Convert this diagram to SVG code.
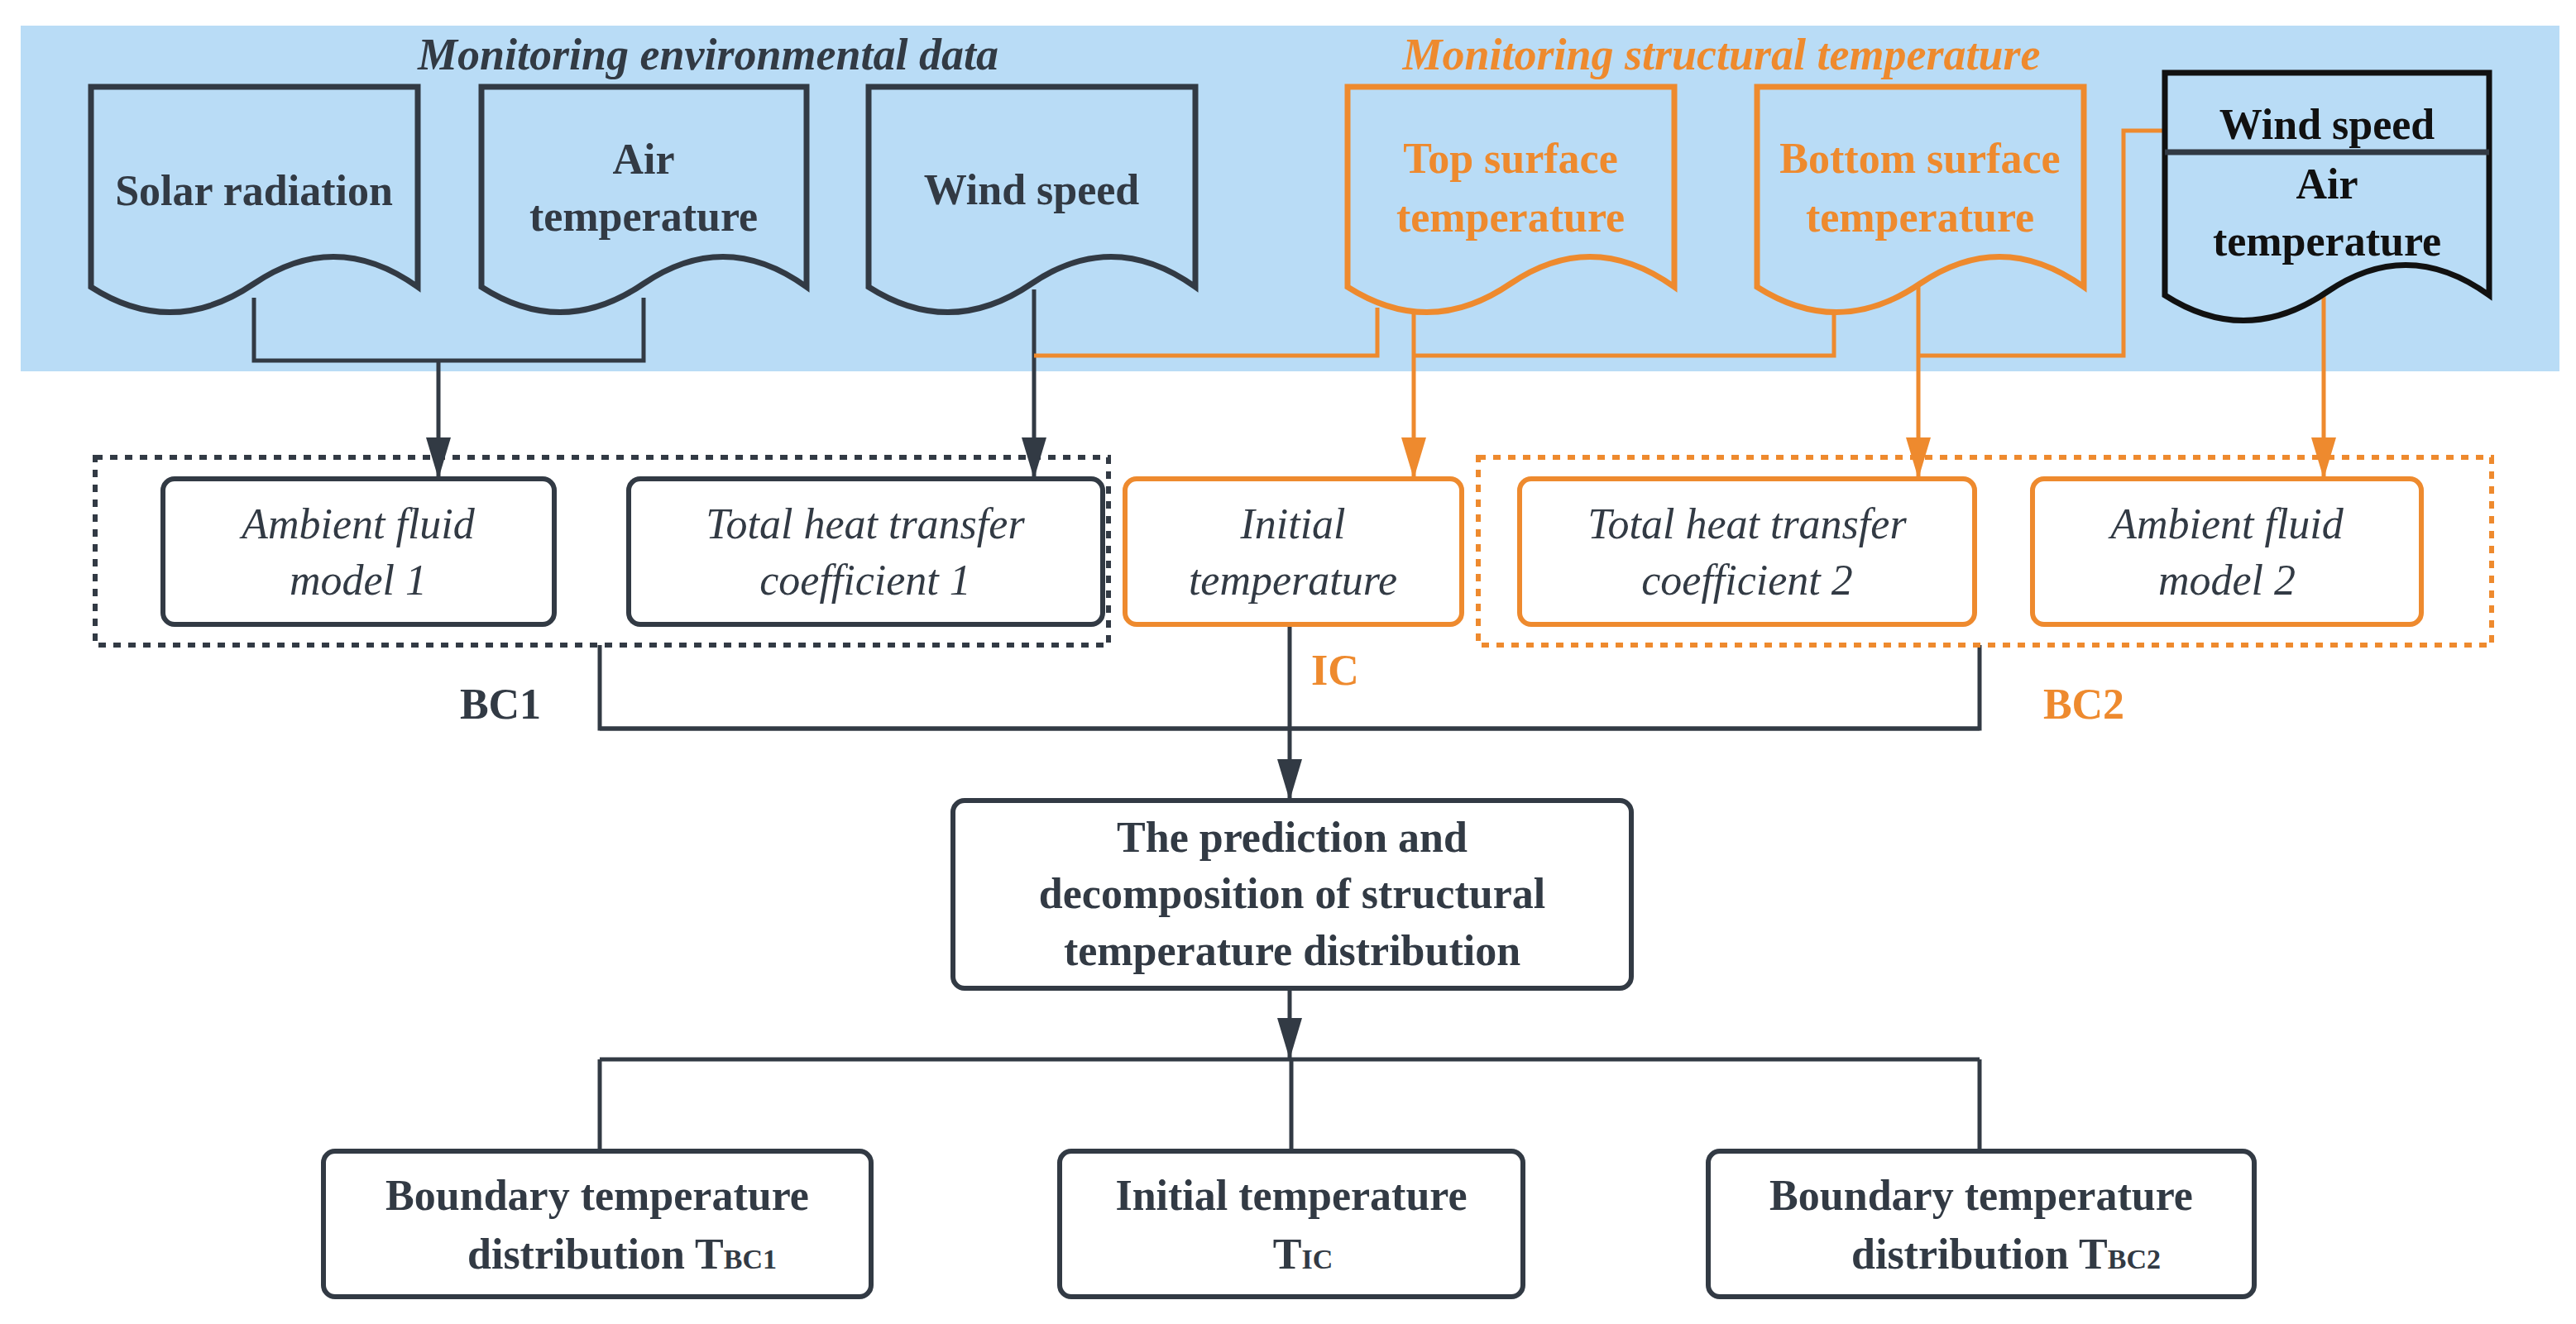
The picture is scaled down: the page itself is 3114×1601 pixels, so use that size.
<svg xmlns="http://www.w3.org/2000/svg" width="3114" height="1601" viewBox="0 0 3114 1601">
<style>
.doc{fill:#b9dcf6;stroke-width:7}
.dk{stroke:#323a44}
.or{stroke:#ee8a2e}
.bk{stroke:#111}
.box{fill:#fff;stroke-width:6}
.ln{fill:none;stroke-width:5}
.t{font-family:"Liberation Serif","Times New Roman","DejaVu Serif",serif;font-weight:bold;font-size:52px;text-anchor:middle}
.i{font-style:italic;font-weight:normal}
.h{font-weight:bold;font-size:54px}
.cd{fill:#323a44}
.co{fill:#ee8a2e}
.cb{fill:#111}
</style>
<defs>
<marker id="ad" viewBox="0 0 50 30" refX="50" refY="15" markerWidth="50" markerHeight="30" markerUnits="userSpaceOnUse" orient="auto"><path d="M0,0 L50,15 L0,30 z" fill="#323a44"/></marker>
<marker id="ao" viewBox="0 0 50 30" refX="50" refY="15" markerWidth="50" markerHeight="30" markerUnits="userSpaceOnUse" orient="auto"><path d="M0,0 L50,15 L0,30 z" fill="#ee8a2e"/></marker>
</defs>
<rect x="25" y="31" width="3069" height="418" fill="#b9dcf6"/>
<text class="t i h cd" x="856" y="84">Monitoring environmental data</text>
<text class="t i h co" x="2081" y="84">Monitoring structural temperature</text>

<g id="connectors">
<path class="ln dk" d="M307,360 V436 H778 V360"/>
<path class="ln dk" d="M530,436 V579" marker-end="url(#ad)"/>
<path class="ln dk" d="M1250,350 V579" marker-end="url(#ad)"/>
<path class="ln or" d="M1250,430 H1665 V372"/>
<path class="ln or" d="M1709,378 V579" marker-end="url(#ao)"/>
<path class="ln or" d="M1709,430 H2217 V372"/>
<path class="ln or" d="M2319,345 V579" marker-end="url(#ao)"/>
<path class="ln or" d="M2319,430 H2567 V158 H2617"/>
<path class="ln or" d="M2809,355 V579" marker-end="url(#ao)"/>
<path class="ln dk" d="M725,780 V881 H2393 V780"/>
<path class="ln dk" d="M725,881 H2393" stroke-width="9"/>
<path class="ln dk" d="M1559,755 V968" marker-end="url(#ad)"/>
<path class="ln dk" d="M1559,1195 V1281" marker-end="url(#ad)"/>
<path class="ln dk" d="M725,1281 H2393" stroke-width="9"/>
<path class="ln dk" d="M725,1281 V1392 M1561,1281 V1392 M2393,1281 V1392"/>
</g>

<g id="doc-solar"><path class="doc dk" d="M110,105 H505 V347 Q406,276 307,343 Q208,410 110,347 Z"/><text class="t cd" x="307" y="248">Solar radiation</text></g>
<g id="doc-air"><path class="doc dk" d="M582,105 H975 V347 Q877,276 778,343 Q680,410 582,347 Z"/><text class="t cd" x="778" y="210">Air</text><text class="t cd" x="778" y="279">temperature</text></g>
<g id="doc-wind"><path class="doc dk" d="M1050,105 H1445 V347 Q1346,276 1247,343 Q1149,410 1050,347 Z"/><text class="t cd" x="1247" y="247">Wind speed</text></g>
<g id="doc-top"><path class="doc or" d="M1629,105 H2024 V347 Q1925,276 1826,343 Q1728,410 1629,347 Z"/><text class="t co" x="1826" y="209">Top surface</text><text class="t co" x="1826" y="280">temperature</text></g>
<g id="doc-bottom"><path class="doc or" d="M2124,105 H2519 V347 Q2420,276 2321,343 Q2223,410 2124,347 Z"/><text class="t co" x="2321" y="209">Bottom surface</text><text class="t co" x="2321" y="280">temperature</text></g>
<g id="doc-wind-air"><path class="doc bk" d="M2617,88 H3009 V357 Q2911,286 2813,353 Q2715,420 2617,357 Z"/><line x1="2617" y1="184" x2="3009" y2="184" stroke="#323a44" stroke-width="7"/><text class="t cb" x="2813" y="168">Wind speed</text><text class="t cb" x="2813" y="240">Air</text><text class="t cb" x="2813" y="309">temperature</text></g>

<g id="group-bc1"><rect x="115" y="553" width="1225" height="227" fill="none" stroke="#323a44" stroke-width="6" stroke-dasharray="9,9"/></g>
<g id="group-bc2"><rect x="1787" y="553" width="1225" height="227" fill="none" stroke="#ee8a2e" stroke-width="6" stroke-dasharray="9,9"/></g>

<g id="ambient1"><rect class="box dk" x="197" y="579" width="473" height="176" rx="14"/><text class="t i cd" x="433" y="651">Ambient fluid</text><text class="t i cd" x="433" y="719">model 1</text></g>
<g id="htc1"><rect class="box dk" x="760" y="579" width="573" height="176" rx="14"/><text class="t i cd" x="1046" y="651">Total heat transfer</text><text class="t i cd" x="1046" y="719">coefficient 1</text></g>
<g id="initial"><rect class="box or" x="1360" y="579" width="407" height="176" rx="14"/><text class="t i cd" x="1563" y="651">Initial</text><text class="t i cd" x="1563" y="719">temperature</text></g>
<g id="htc2"><rect class="box or" x="1837" y="579" width="550" height="176" rx="14"/><text class="t i cd" x="2112" y="651">Total heat transfer</text><text class="t i cd" x="2112" y="719">coefficient 2</text></g>
<g id="ambient2"><rect class="box or" x="2457" y="579" width="470" height="176" rx="14"/><text class="t i cd" x="2692" y="651">Ambient fluid</text><text class="t i cd" x="2692" y="719">model 2</text></g>

<g id="labels"><text class="t cd" x="605" y="869">BC1</text><text class="t co" x="1614" y="828">IC</text><text class="t co" x="2519" y="869">BC2</text></g>

<g id="prediction"><rect class="box dk" x="1152" y="968" width="820" height="227" rx="14"/><text class="t cd" x="1562" y="1030">The prediction and</text><text class="t cd" x="1562" y="1098">decomposition of structural</text><text class="t cd" x="1562" y="1167">temperature distribution</text></g>
<g id="out-bc1"><rect class="box dk" x="391" y="1392" width="662" height="176" rx="14"/><text class="t cd" x="722" y="1463">Boundary temperature</text><text class="t cd" x="752" y="1534">distribution T<tspan font-size="34">BC1</tspan></text></g>
<g id="out-ic"><rect class="box dk" x="1281" y="1392" width="560" height="176" rx="14"/><text class="t cd" x="1561" y="1463">Initial temperature</text><text class="t cd" x="1575" y="1534">T<tspan font-size="34">IC</tspan></text></g>
<g id="out-bc2"><rect class="box dk" x="2065" y="1392" width="660" height="176" rx="14"/><text class="t cd" x="2395" y="1463">Boundary temperature</text><text class="t cd" x="2425" y="1534">distribution T<tspan font-size="34">BC2</tspan></text></g>
</svg>
